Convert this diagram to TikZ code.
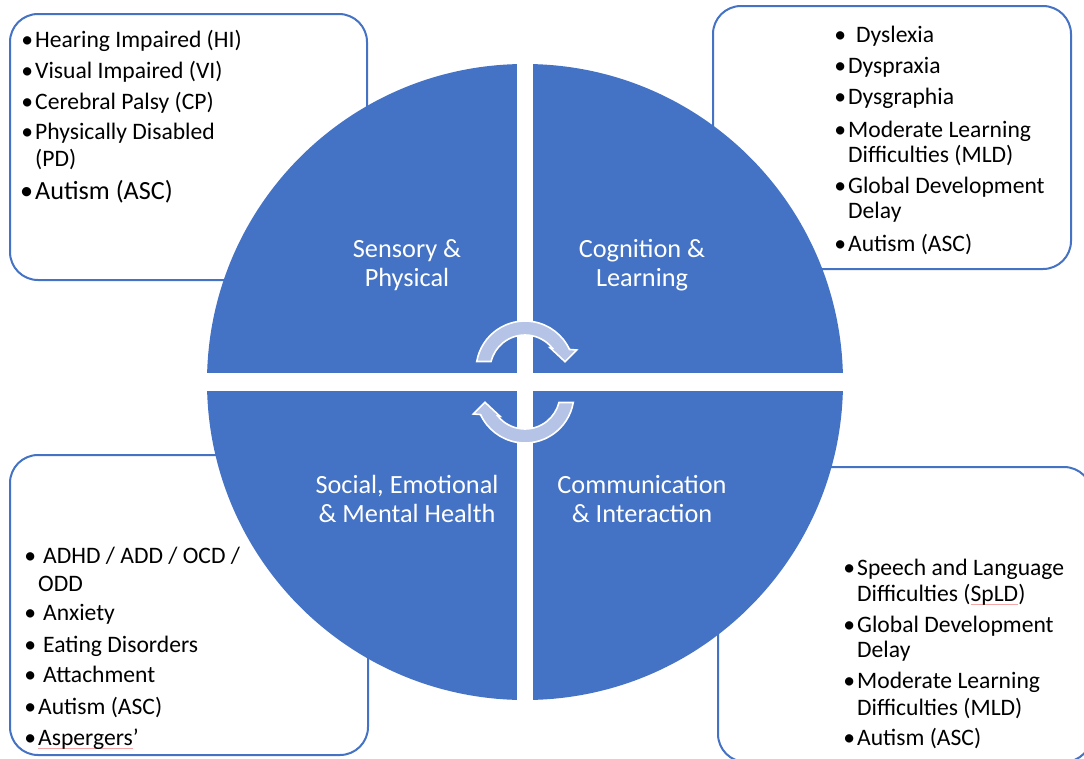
\documentclass[tikz,border=0pt]{standalone}
\usepackage{fontspec}
\setmainfont{Carlito}
\definecolor{accent}{HTML}{4472C4}
\definecolor{cyclefill}{HTML}{B4C3E6}
\definecolor{spellred}{HTML}{F2A6A6}
% hanging bullet in front of a list line
\newcommand\bul{\llap{•\hspace{2pt}}}
% thin proofing underline under a word
\newcommand\spellflag[1]{\setbox0\hbox{#1}\rlap{\textcolor{spellred}{\rule[-3.5pt]{\wd0}{0.9pt}}}\box0}
\begin{document}
\begin{tikzpicture}[x=1pt,y=-1pt,
  listbox/.style={draw=accent, line width=2pt, rounded corners=28pt},
  entry/.style={anchor=base west, inner sep=0pt, text=black, font=\fontsize{23.6}{28}\selectfont},
  bigentry/.style={entry, font=\fontsize{26.2}{31}\selectfont},
  quadlabel/.style={anchor=base, inner sep=0pt, text=white, font=\fontsize{26.3}{32}\selectfont},
  turnarrow/.pic={
    \fill[cyclefill, draw=white, line width=1.6pt, y=1pt]
      (170:49) arc[start angle=170, end angle=24.8, radius=49]
      -- (51.7,20) -- (40,8.3) -- (25,22.3) -- (39.2:35)
      arc[start angle=39.2, end angle=166, radius=35] -- cycle;
  }]
\useasboundingbox (0,0) rectangle (1084,758);

% four list boxes
\draw[listbox] (10,14) rectangle (367,280);
\draw[listbox] (713,6) rectangle (1071,269);
\draw[listbox] (10,455) rectangle (368,755);
\draw[listbox] (718,467) rectangle (1092,762);

% quartered disc
\fill[accent] (525,382) circle[radius=318];
\fill[white] (517,60) rectangle (533,704);
\fill[white] (200,373) rectangle (850,391);

% cycle arrows in the middle
\pic (cycletop) at (525,370) {turnarrow};
\pic[rotate=180] (cyclebottom) at (525,394) {turnarrow};

% quadrant titles
\node[quadlabel] (sp-a) at (407,257) {Sensory \&};
\node[quadlabel] (sp-b) at (407,286) {Physical};
\node[quadlabel] (cl-a) at (642,257) {Cognition \&};
\node[quadlabel] (cl-b) at (642,286) {Learning};
\node[quadlabel] (se-a) at (407,493) {Social, Emotional};
\node[quadlabel] (se-b) at (407,522) {\& Mental Health};
\node[quadlabel] (ci-a) at (642,493) {Communication};
\node[quadlabel] (ci-b) at (642,522) {\& Interaction};

% sensory and physical needs
\node[entry] (sp1) at (35,47) {\bul Hearing Impaired (HI)};
\node[entry] (sp2) at (35,78) {\bul Visual Impaired (VI)};
\node[entry] (sp3) at (35,109) {\bul Cerebral Palsy (CP)};
\node[entry] (sp4) at (35,139) {\bul Physically Disabled};
\node[entry] (sp5) at (35,166) {(PD)};
\node[bigentry] (sp6) at (35,199) {\bul Autism (ASC)};

% cognition and learning needs
\node[entry] (cl1) at (848,42) {\bul\hspace{8pt}Dyslexia};
\node[entry] (cl2) at (848,73) {\bul Dyspraxia};
\node[entry] (cl3) at (848,104) {\bul Dysgraphia};
\node[entry] (cl4) at (848,137) {\bul Moderate Learning};
\node[entry] (cl5) at (848,162) {Difficulties (MLD)};
\node[entry] (cl6) at (848,193) {\bul Global Development};
\node[entry] (cl7) at (848,218) {Delay};
\node[entry] (cl8) at (848,251) {\bul Autism (ASC)};

% social, emotional and mental health needs
\node[entry] (se1) at (38,563) {\bul\hspace{5pt}ADHD / ADD / OCD /};
\node[entry] (se2) at (38,591) {ODD};
\node[entry] (se3) at (38,620) {\bul\hspace{5pt}Anxiety};
\node[entry] (se4) at (38,652) {\bul\hspace{5pt}Eating Disorders};
\node[entry] (se5) at (38,682) {\bul\hspace{5pt}Attachment};
\node[entry] (se6) at (38,714) {\bul Autism (ASC)};
\node[entry] (se7) at (38,745) {\bul\spellflag{Aspergers}’};

% communication and interaction needs
\node[entry] (ci1) at (857,575) {\bul Speech and Language};
\node[entry] (ci2) at (857,601) {Difficulties (\spellflag{SpLD})};
\node[entry] (ci3) at (857,632) {\bul Global Development};
\node[entry] (ci4) at (857,657) {Delay};
\node[entry] (ci5) at (857,688) {\bul Moderate Learning};
\node[entry] (ci6) at (857,715) {Difficulties (MLD)};
\node[entry] (ci7) at (857,745) {\bul Autism (ASC)};
\end{tikzpicture}
\end{document}
